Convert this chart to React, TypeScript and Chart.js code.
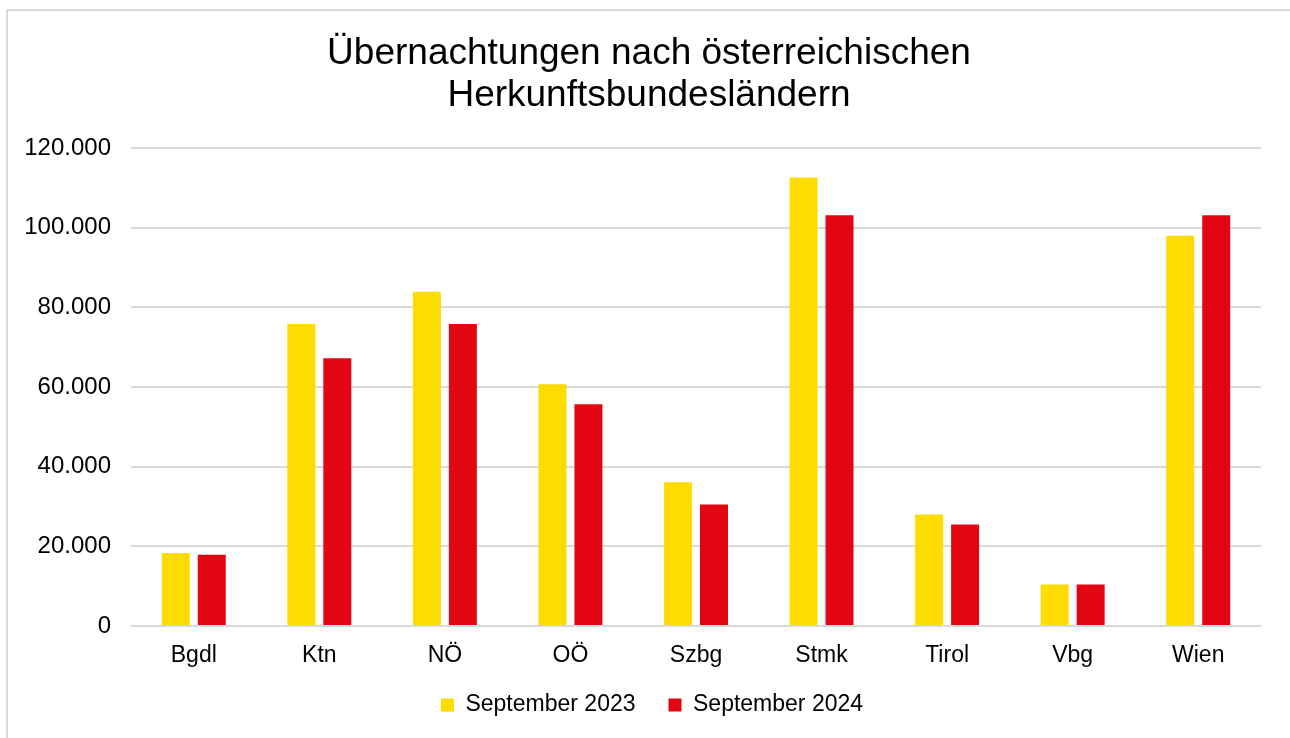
import React, { useEffect, useRef } from "react";
import { Chart, registerables } from "chart.js";

Chart.register(...registerables);

const categories = ["Bgdl", "Ktn", "NÖ", "OÖ", "Szbg", "Stmk", "Tirol", "Vbg", "Wien"];
const sept2023 = [18300, 75800, 83900, 60700, 36100, 112600, 28000, 10400, 98000];
const sept2024 = [17900, 67200, 75800, 55700, 30500, 103100, 25500, 10400, 103100];
const seriesLabels = ["September 2023", "September 2024"];
const titleLines = ["Übernachtungen nach österreichischen", "Herkunftsbundesländern"];
const yTicksMax = 120000;
const yTickStep = 20000;

const FONT = "'Liberation Sans', Arial, Helvetica, sans-serif";

const fmt = (v: number) => String(v).replace(/\B(?=(\d{3})+(?!\d))/g, ".");

const shiftPlugin = {
  id: "shiftBoxes",
  afterLayout(chart: any) {
    const t = chart.titleBlock;
    if (t) {
      t.left += 8.5;
      t.right += 8.5;
    }
    const l = chart.legend;
    if (l) {
      l.left += 11.5;
      l.right += 11.5;
      l.top -= 11.5;
      l.bottom -= 11.5;
    }
  },
};

export default function App() {
  const ref = useRef<HTMLCanvasElement | null>(null);

  useEffect(() => {
    if (!ref.current) return;
    const chart = new Chart(ref.current, {
      type: "bar",
      data: {
        labels: categories,
        datasets: [
          {
            label: seriesLabels[0],
            data: sept2023,
            backgroundColor: "#FFDC00",
            categoryPercentage: 0.573,
            barPercentage: 0.778,
          },
          {
            label: seriesLabels[1],
            data: sept2024,
            backgroundColor: "#E20613",
            categoryPercentage: 0.573,
            barPercentage: 0.778,
          },
        ],
      },
      plugins: [shiftPlugin],
      options: {
        responsive: false,
        animation: false,
        layout: { padding: { left: 20, right: 29, top: 0, bottom: 0 } },
        plugins: {
          title: {
            display: true,
            text: titleLines,
            color: "#000",
            font: { family: FONT, size: 37, weight: "normal", lineHeight: 42 / 37 },
            padding: { top: 32.5, bottom: 31.5 },
          },
          legend: {
            position: "bottom",
            labels: {
              color: "#000",
              font: { family: FONT, size: 23 },
              boxWidth: 13,
              boxHeight: 13,
              padding: 33,
            },
          },
          tooltip: { enabled: false },
        },
        scales: {
          x: {
            grid: { display: false, drawTicks: false },
            border: { display: false },
            ticks: {
              color: "#000",
              font: { family: FONT, size: 23 },
              padding: 16,
            },
            afterFit: (scale: any) => {
              scale.height = 46;
            },
          },
          y: {
            min: 0,
            max: yTicksMax,
            grid: { color: "#d9d9d9", lineWidth: 2, drawTicks: false },
            border: { display: false },
            ticks: {
              stepSize: yTickStep,
              color: "#000",
              font: { family: FONT, size: 24 },
              padding: 20,
              callback: (v: any) => fmt(Number(v)),
            },
            afterFit: (scale: any) => {
              scale.width = 111;
            },
          },
        },
      },
    });
    return () => chart.destroy();
  }, []);

  return (
    <div
      style={{
        position: "fixed",
        left: 0,
        top: 0,
        width: 1290,
        height: 738,
        background: "#fff",
        overflow: "hidden",
      }}
    >
      <div
        style={{
          position: "absolute",
          left: 6,
          top: 9,
          width: 1400,
          height: 800,
          border: "2px solid #d9d9d9",
          boxSizing: "border-box",
        }}
      />
      <canvas
        ref={ref}
        width={1290}
        height={738}
        style={{ position: "absolute", left: 0, top: 0, width: 1290, height: 738 }}
      />
    </div>
  );
}
